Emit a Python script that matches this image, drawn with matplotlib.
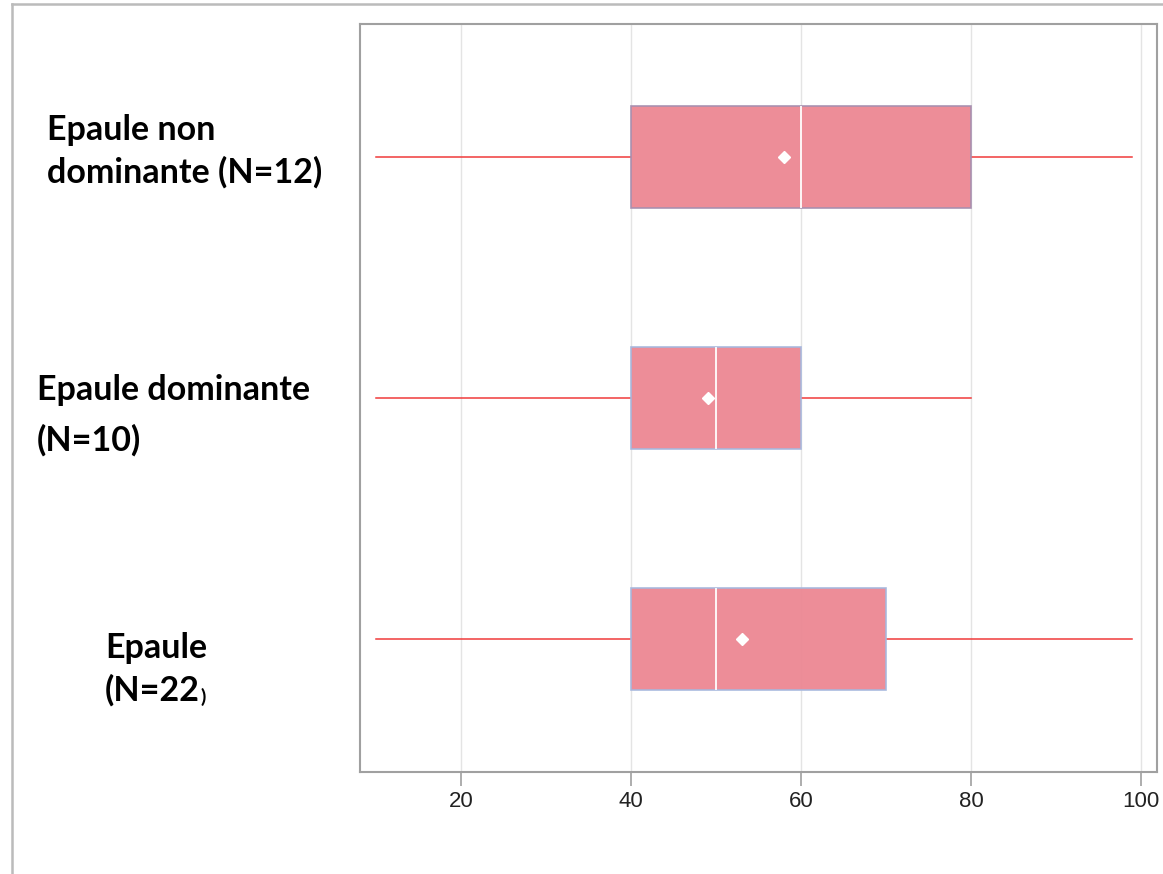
import matplotlib
matplotlib.use("Agg")
import matplotlib.pyplot as plt
from matplotlib.lines import Line2D

W, H = 1163, 874
DPI = 100

# Data (bottom to top)
labels = ["Epaule\n(N=22)", "Epaule dominante\n(N=10)", "Epaule non\ndominante (N=12)"]
whislo = [10, 10, 10]
q1 = [40, 40, 40]
med = [50, 50, 60]
q3 = [70, 60, 80]
whishi = [99, 80, 99]
means = [53, 49, 58]
xticks = [20, 40, 60, 80, 100]

fig = plt.figure(figsize=(W / DPI, H / DPI), dpi=DPI)
fig.patch.set_facecolor("white")

def fx(px):
    return px / W

def fy(py):
    return 1 - py / H

ax = fig.add_axes([fx(360), fy(772), fx(1157) - fx(360), fy(24) - fy(772)])

stats = []
for i in range(len(labels)):
    stats.append(dict(whislo=whislo[i], q1=q1[i], med=med[i], q3=q3[i],
                      whishi=whishi[i], mean=means[i], fliers=[], label=""))

positions = [1, 2, 3]
bp = ax.bxp(stats, positions=positions, orientation="horizontal", widths=0.427,
            patch_artist=True, showmeans=True, showcaps=False, showfliers=False,
            boxprops=dict(facecolor="#EC8793", edgecolor="#A6B8DE", linewidth=1.2, alpha=0.95),
            medianprops=dict(color="white", linewidth=1.3),
            whiskerprops=dict(color="#F03A3A", linewidth=1.1),
            meanprops=dict(marker="D", markerfacecolor="white", markeredgecolor="white",
                           markersize=6.5))
# top box edge slightly purple
bp["boxes"][2].set_edgecolor("#A68FB0")
for b in bp["boxes"]:
    b.set_zorder(3)
for m in bp["medians"]:
    m.set_zorder(4)
for m in bp["means"]:
    m.set_zorder(5)

ax.set_xlim(8.1, 101.9)
ax.set_ylim(0.448, 3.552)
ax.set_xticks(xticks)
ax.set_xticklabels([str(t) for t in xticks], fontsize=16, family="Liberation Sans", color="#222222")
ax.set_yticks([])
ax.tick_params(axis="x", length=10, width=1.2, color="#A0A0A0", pad=4)
ax.grid(axis="x", color="#E4E4E4", linewidth=1.0, zorder=0)
ax.set_axisbelow(True)
for s in ax.spines.values():
    s.set_color("#A0A0A0")
    s.set_linewidth(1.5)

# Category labels
lab_font = dict(family="Lato", fontweight="bold", fontsize=24.5, color="black", va="center", ha="left")
fig.text(fx(47), fy(130), "Epaule non", **lab_font)
fig.text(fx(47), fy(172), "dominante (N=12)", **lab_font)
fig.text(fx(37), fy(390), "Epaule dominante", **lab_font)
fig.text(fx(37), fy(440), "(N=10)", **lab_font)
fig.text(fx(105), fy(648), "Epaule", **lab_font)
t = fig.text(fx(105), fy(690), "(N=22", **lab_font)
fig.canvas.draw()
bb = t.get_window_extent()
fig.text(bb.x1 / W + 0.0005, fy(697), ")", family="Lato", fontweight="bold", fontsize=14,
         color="black", va="center", ha="left")

# Outer frame lines
fig.add_artist(Line2D([fx(12), fx(12)], [0, fy(4)], transform=fig.transFigure, color="#BBBBBB", linewidth=1.8))
fig.add_artist(Line2D([fx(12), 1], [fy(4), fy(4)], transform=fig.transFigure, color="#BBBBBB", linewidth=1.8))

fig.savefig("out.png", dpi=DPI, facecolor="white")
